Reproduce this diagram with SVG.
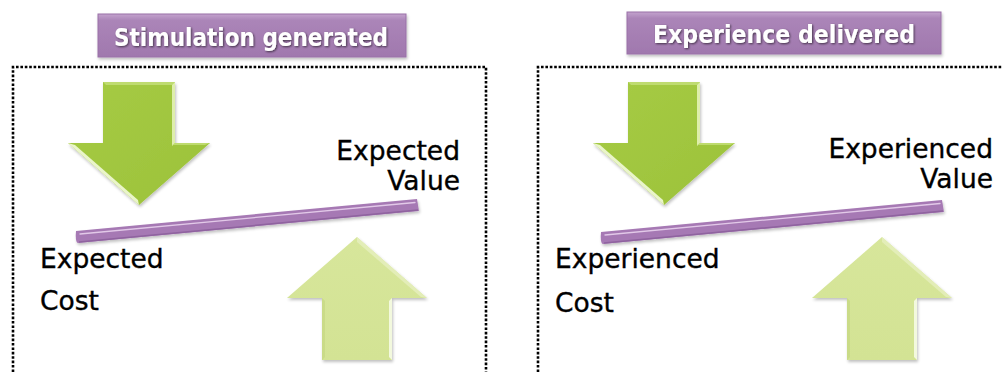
<svg xmlns="http://www.w3.org/2000/svg" width="1003" height="372" viewBox="0 0 1003 372">
  <style>
    .frame { fill: none; stroke: #000; stroke-width: 2.6; stroke-dasharray: 2.6 1.8; }
    .title-box { fill: url(#purpleBox); stroke: #9a70a8; stroke-width: 1; }
    .title { font-family: "DejaVu Sans", "Liberation Sans", sans-serif; font-weight: bold; font-size: 24px; fill: #ffffff; text-anchor: middle; }
    .label { font-family: "DejaVu Sans", "Liberation Sans", sans-serif; font-size: 26.5px; fill: #000; stroke: #000; stroke-width: 0.35; }
    .end { text-anchor: end; }
    .bar { fill: #a679b4; }
    .bar-edge { stroke: #8f639f; stroke-width: 1.5; }
    .bar-hi { stroke: #e2c9e8; stroke-width: 1.3; stroke-linecap: round; }
    .arrow-down { fill: url(#greenDark); }
    .arrow-up { fill: url(#greenLight); }
  </style>
  <defs>
    <linearGradient id="purpleBox" x1="0" y1="0" x2="0" y2="1">
      <stop offset="0" stop-color="#c3a3cd"/>
      <stop offset="0.15" stop-color="#ab85b8"/>
      <stop offset="1" stop-color="#a078ae"/>
    </linearGradient>
    <linearGradient id="greenDark" x1="0" y1="0" x2="1" y2="1">
      <stop offset="0" stop-color="#a6cb45"/>
      <stop offset="1" stop-color="#9cc23a"/>
    </linearGradient>
    <linearGradient id="greenLight" x1="0" y1="0" x2="0" y2="1">
      <stop offset="0" stop-color="#d7e69b"/>
      <stop offset="1" stop-color="#d3e394"/>
    </linearGradient>
    <filter id="softShadow" x="-10%" y="-30%" width="130%" height="160%">
      <feGaussianBlur in="SourceAlpha" stdDeviation="1.5"/>
      <feOffset dx="1" dy="2" result="b"/>
      <feComponentTransfer><feFuncA type="linear" slope="0.25"/></feComponentTransfer>
      <feMerge><feMergeNode/><feMergeNode in="SourceGraphic"/></feMerge>
    </filter>
    <filter id="textShadow" x="-5%" y="-20%" width="110%" height="140%">
      <feGaussianBlur in="SourceAlpha" stdDeviation="0.8"/>
      <feOffset dx="0.5" dy="1" result="b"/>
      <feComponentTransfer><feFuncA type="linear" slope="0.6"/></feComponentTransfer>
      <feMerge><feMergeNode/><feMergeNode in="SourceGraphic"/></feMerge>
    </filter>
    <!-- down arrow, origin at top centre of the shaft -->
    <g id="downArrow">
      <path class="arrow-down" d="M-36,0 H36 V61 H71 L0,123 L-71,61 H-36 Z"/>
      <path d="M-36,0 H36 L33,3 H-33 Z" fill="#c5e07a" opacity="0.8"/>
      <path d="M33,3 V64 L36,61 V0 Z" fill="#e4f2b8" opacity="0.9"/>
      <path d="M-71,61 L0,123 L-1,118 L-64,63 Z" fill="#f2f9d9" opacity="0.9"/>
      <path d="M36,61 H71 L66,63 H33 Z" fill="#c5e07a" opacity="0.8"/>
    </g>
    <!-- up arrow, origin at the tip -->
    <g id="upArrow">
      <path class="arrow-up" d="M0,0 L70,61 H35 V123 H-35 V61 H-70 Z"/>
      <path d="M35,61 V123 L32,120 V64 Z" fill="#f6fbe6" opacity="0.9"/>
      <path d="M-35,61 V123 L-32,120 V64 Z" fill="#c3d57e" opacity="0.6"/>
      <path d="M0,0 L70,61 L64,60 L0,5 Z" fill="#e8f1c4" opacity="0.7"/>
    </g>
    <!-- tilted lever, origin at its left end centre -->
    <g id="lever">
      <path class="bar" d="M0,-6 L341,-38 L343,-26 L2,6 Q-1,5 0,-6 Z"/>
      <line class="bar-edge" x1="3" y1="5" x2="342" y2="-27"/>
      <line class="bar-hi" x1="4" y1="-3" x2="339" y2="-34.5"/>
    </g>
  </defs>

  <rect width="1003" height="372" fill="#ffffff"/>

  <!-- panel frames -->
  <g id="frames">
    <path class="frame" d="M13,372 V67 H486 V372"/>
    <path class="frame" d="M538,372 V67 H1003"/>
  </g>

  <!-- left panel -->
  <g id="title-stimulation" filter="url(#softShadow)">
    <rect class="title-box" x="98" y="14" width="308" height="43"/>
    <text class="title" x="251" y="46" textLength="274" lengthAdjust="spacingAndGlyphs" filter="url(#textShadow)">Stimulation generated</text>
  </g>
  <g id="arrow-down-left" filter="url(#softShadow)">
    <use href="#downArrow" x="139" y="82"/>
  </g>
  <g id="arrow-up-left" filter="url(#softShadow)">
    <use href="#upArrow" x="357" y="237"/>
  </g>
  <g id="lever-left" filter="url(#softShadow)">
    <use href="#lever" x="76" y="237"/>
  </g>
  <g id="expected-value">
    <text class="label end" x="460" y="160">Expected</text>
    <text class="label end" x="460" y="190">Value</text>
  </g>
  <g id="expected-cost">
    <text class="label" x="40" y="268">Expected</text>
    <text class="label" x="40" y="310">Cost</text>
  </g>

  <!-- right panel -->
  <g id="title-experience" filter="url(#softShadow)">
    <rect class="title-box" x="627" y="12" width="314" height="42"/>
    <text class="title" x="784" y="43" textLength="262" lengthAdjust="spacingAndGlyphs" filter="url(#textShadow)">Experience delivered</text>
  </g>
  <g id="arrow-down-right" filter="url(#softShadow)">
    <use href="#downArrow" x="664" y="82"/>
  </g>
  <g id="arrow-up-right" filter="url(#softShadow)">
    <use href="#upArrow" x="882" y="237"/>
  </g>
  <g id="lever-right" filter="url(#softShadow)">
    <use href="#lever" x="601" y="238"/>
  </g>
  <g id="experienced-value">
    <text class="label end" x="993" y="158">Experienced</text>
    <text class="label end" x="993" y="188">Value</text>
  </g>
  <g id="experienced-cost">
    <text class="label" x="555" y="268">Experienced</text>
    <text class="label" x="555" y="312">Cost</text>
  </g>
</svg>
